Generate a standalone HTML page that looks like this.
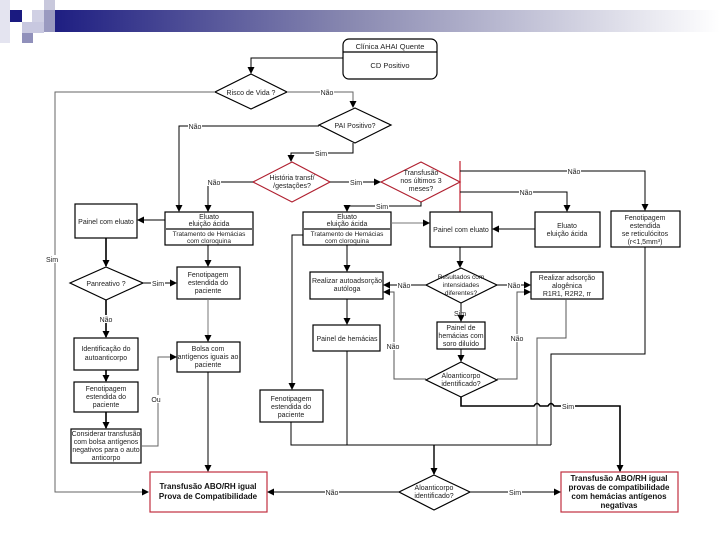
<!DOCTYPE html>
<html><head><meta charset="utf-8"><style>
html,body{margin:0;padding:0;background:#fff;width:720px;height:540px;overflow:hidden}
svg{display:block;font-family:"Liberation Sans",sans-serif}
text{font-size:7px;fill:#222;text-anchor:middle}
.b{font-size:8px;font-weight:bold;fill:#111}
</style></head><body>
<svg width="720" height="540" viewBox="0 0 720 540">
<defs>
<linearGradient id="g" x1="0" x2="1"><stop offset="0" stop-color="#1a1a80"/><stop offset="0.45" stop-color="#8888b0"/><stop offset="1" stop-color="#fff"/></linearGradient>
<marker id="a" markerUnits="userSpaceOnUse" markerWidth="7" markerHeight="7" refX="6" refY="3.5" orient="auto"><path d="M0,0L7,3.5L0,7z" fill="#000"/></marker>
</defs>
<!-- header -->
<rect x="44" y="10" width="676" height="22" fill="url(#g)"/>
<rect x="0" y="0" width="10" height="43" fill="#e4e4f0"/>
<rect x="10" y="10" width="12" height="12" fill="#1a1a80"/>
<rect x="32" y="10" width="12" height="12" fill="#d0d0e4"/>
<rect x="44" y="0" width="11" height="10" fill="#c8c8dc"/>
<rect x="44" y="10" width="11" height="22" fill="#9a9ac0"/>
<rect x="22" y="22" width="22" height="11" fill="#c8c8e0"/>
<rect x="22" y="33" width="11" height="10" fill="#9090bb"/>

<g fill="none" stroke="#000" stroke-width="1.2">
<rect x="343" y="39" width="94" height="40" rx="6" fill="#fff"/>
<line x1="343" y1="52" x2="437" y2="52"/>
<polygon points="251,74 287,92 251,109 215,92" fill="#fff"/>
<polygon points="355,108 391,125 355,143 319,125" fill="#fff"/>
<polygon points="292,162 330,182 292,202 253,182" stroke="#b02030" fill="#fff"/>
<polygon points="421,162 460,182 421,202 381,182" stroke="#b02030" fill="#fff"/>
<line x1="460" y1="161" x2="460" y2="212" stroke="#c02030"/>
<polygon points="106,267 143,283 106,300 70,283" fill="#fff"/>
<polygon points="461,268 497,285 461,303 426,285" fill="#fff"/>
<polygon points="461,362 497,380 461,397 426,380" fill="#fff"/>
<polygon points="434,475 470,492 434,510 399,492" fill="#fff"/>
<rect x="75" y="204" width="62" height="34"/>
<rect x="165" y="212" width="88" height="33"/><line x1="165" y1="229" x2="253" y2="229" stroke="#666" stroke-width="2"/>
<rect x="303" y="212" width="88" height="33"/><line x1="303" y1="229" x2="391" y2="229" stroke="#666" stroke-width="2"/>
<rect x="430" y="212" width="62" height="35"/>
<rect x="535" y="212" width="65" height="35"/>
<rect x="611" y="211" width="69" height="36"/>
<rect x="177" y="267" width="63" height="32"/>
<rect x="74" y="338" width="64" height="32"/>
<rect x="74" y="382" width="64" height="30"/>
<rect x="71" y="429" width="70" height="34"/>
<rect x="177" y="342" width="63" height="30"/>
<rect x="310" y="272" width="73" height="27"/>
<rect x="313" y="325" width="67" height="26"/>
<rect x="260" y="390" width="63" height="32"/>
<rect x="437" y="322" width="48" height="27"/>
<rect x="531" y="272" width="72" height="27"/>
<rect x="150" y="472" width="117" height="40" stroke="#c03040"/>
<rect x="561" y="472" width="117" height="40" stroke="#c03040"/>
</g>

<g fill="none" stroke="#000" stroke-width="1">
<polyline points="343,58 251,58 251,73" marker-end="url(#a)"/>
<polyline points="215,92 55,92 55,492 148,492" stroke="#666" marker-end="url(#a)"/>
<polyline points="287,92 353,92 353,107" stroke="#666" marker-end="url(#a)"/>
<polyline points="319,126 179,126 179,211" marker-end="url(#a)"/>
<polyline points="353,143 353,153 291,153 291,161" marker-end="url(#a)"/>
<polyline points="253,182 208,182 208,211" marker-end="url(#a)"/>
<polyline points="330,182 380,182" marker-end="url(#a)"/>
<polyline points="460,171 645,171 645,210" marker-end="url(#a)"/>
<polyline points="460,192 567,192 567,211" marker-end="url(#a)"/>
<polyline points="421,202 421,206 347,206 347,211" marker-end="url(#a)"/>
<polyline points="165,220 138,220" marker-end="url(#a)"/>
<polyline points="391,223 429,223" stroke="#777" marker-end="url(#a)"/>
<polyline points="535,229 493,229" marker-end="url(#a)"/>
<polyline points="303,235 292,235 292,389" marker-end="url(#a)"/>
<polyline points="106,238 106,266" stroke-width="1.6" marker-end="url(#a)"/>
<polyline points="208,245 208,266" marker-end="url(#a)"/>
<polyline points="347,245 347,271" marker-end="url(#a)"/>
<polyline points="460,247 460,267" marker-end="url(#a)"/>
<polyline points="143,283 176,283" marker-end="url(#a)"/>
<polyline points="106,300 106,337" stroke-width="1.6" marker-end="url(#a)"/>
<polyline points="106,370 106,381" stroke-width="1.6" marker-end="url(#a)"/>
<polyline points="106,412 106,428" stroke-width="1.6" marker-end="url(#a)"/>
<polyline points="141,446 158,446 158,357 176,357" stroke="#666" marker-end="url(#a)"/>
<polyline points="208,299 208,341" stroke="#777" marker-end="url(#a)"/>
<polyline points="208,372 208,471" marker-end="url(#a)"/>
<polyline points="426,285 384,285" marker-end="url(#a)"/>
<polyline points="497,285 530,285" marker-end="url(#a)"/>
<polyline points="461,303 461,321" marker-end="url(#a)"/>
<polyline points="461,349 461,361" marker-end="url(#a)"/>
<polyline points="426,379 394,379 394,292 384,292" stroke="#555" marker-end="url(#a)"/>
<polyline points="497,379 517,379 517,292 530,292" stroke="#555" marker-end="url(#a)"/>
<polyline points="347,299 347,324" marker-end="url(#a)"/>
<polyline points="347,351 347,445"/>
<polyline points="291,422 291,445 551,445"/>
<polyline points="566,299 566,338 537,338 537,445" stroke="#555"/>
<polyline points="645,247 645,354 551,354 551,445"/>
<polyline points="434,445 434,474" stroke-width="1.4" marker-end="url(#a)"/>
<path d="M461,397 V406 H534 q3,-5 6,0 H548 q3,-5 6,0 H620 V471" stroke-width="1.6" marker-end="url(#a)"/>
<polyline points="399,492 268,492" marker-end="url(#a)"/>
<polyline points="470,492 560,492" marker-end="url(#a)"/>
</g>

<g>
<rect x="320" y="88" width="14" height="8" fill="#fff"/><text x="327" y="95">Não</text>
<rect x="188" y="122" width="14" height="8" fill="#fff"/><text x="195" y="129">Não</text>
<rect x="314" y="149" width="14" height="8" fill="#fff"/><text x="321" y="156">Sim</text>
<rect x="207" y="178" width="14" height="8" fill="#fff"/><text x="214" y="185">Não</text>
<rect x="349" y="178" width="14" height="8" fill="#fff"/><text x="356" y="185">Sim</text>
<rect x="567" y="167" width="14" height="8" fill="#fff"/><text x="574" y="174">Não</text>
<rect x="519" y="188" width="14" height="8" fill="#fff"/><text x="526" y="195">Não</text>
<rect x="375" y="202" width="14" height="8" fill="#fff"/><text x="382" y="209">Sim</text>
<rect x="46" y="255" width="14" height="8" fill="#fff"/><text x="52" y="262">Sim</text>
<rect x="151" y="279" width="14" height="8" fill="#fff"/><text x="158" y="286">Sim</text>
<rect x="99" y="315" width="14" height="8" fill="#fff"/><text x="106" y="322">Não</text>
<rect x="150" y="395" width="12" height="8" fill="#fff"/><text x="156" y="402">Ou</text>
<rect x="397" y="281" width="14" height="8" fill="#fff"/><text x="404" y="288">Não</text>
<rect x="507" y="281" width="14" height="8" fill="#fff"/><text x="514" y="288">Não</text>
<text x="460" y="316">Sim</text>
<rect x="386" y="342" width="14" height="8" fill="#fff"/><text x="393" y="349">Não</text>
<rect x="510" y="334" width="14" height="8" fill="#fff"/><text x="517" y="341">Não</text>
<rect x="561" y="402" width="14" height="8" fill="#fff"/><text x="568" y="409">Sim</text>
<rect x="325" y="488" width="14" height="8" fill="#fff"/><text x="332" y="495">Não</text>
<rect x="508" y="488" width="14" height="8" fill="#fff"/><text x="515" y="495">Sim</text>

<text x="390" y="49" style="font-size:7.5px">Clínica AHAI Quente</text>
<text x="390" y="68" style="font-size:7.5px">CD Positivo</text>
<text x="251" y="95">Risco de Vida ?</text>
<text x="355" y="128">PAI Positivo?</text>
<text x="292" y="180">História transf/</text><text x="292" y="188">/gestações?</text>
<text x="421" y="175">Transfusão</text><text x="421" y="183">nos últimos 3</text><text x="421" y="191">meses?</text>
<text x="106" y="224">Painel com eluato</text>
<text x="209" y="219">Eluato</text><text x="209" y="226">eluição ácida</text>
<text x="209" y="236" style="font-size:6.5px">Tratamento de Hemácias</text><text x="209" y="243" style="font-size:6.5px">com cloroquina</text>
<text x="347" y="219">Eluato</text><text x="347" y="226">eluição ácida</text>
<text x="347" y="236" style="font-size:6.5px">Tratamento de Hemácias</text><text x="347" y="243" style="font-size:6.5px">com cloroquina</text>
<text x="461" y="232">Painel com eluato</text>
<text x="567" y="228">Eluato</text><text x="567" y="236">eluição ácida</text>
<text x="645" y="220">Fenotipagem</text><text x="645" y="228">estendida</text><text x="645" y="236">se reticulócitos</text><text x="645" y="244">(r&lt;1,5mm³)</text>
<text x="106" y="286">Panreativo ?</text>
<text x="208" y="277">Fenotipagem</text><text x="208" y="285">estendida do</text><text x="208" y="293">paciente</text>
<text x="106" y="351">Identificação do</text><text x="106" y="360">autoanticorpo</text>
<text x="106" y="391">Fenotipagem</text><text x="106" y="399">estendida do</text><text x="106" y="407">paciente</text>
<text x="106" y="436">Considerar transfusão</text><text x="106" y="444">com bolsa antígenos</text><text x="106" y="452">negativos para o auto</text><text x="106" y="460">anticorpo</text>
<text x="208" y="351">Bolsa com</text><text x="208" y="359">antígenos iguais ao</text><text x="208" y="367">paciente</text>
<text x="347" y="283">Realizar autoadsorção</text><text x="347" y="291">autóloga</text>
<text x="347" y="341">Painel de hemácias</text>
<text x="291" y="401">Fenotipagem</text><text x="291" y="409">estendida do</text><text x="291" y="417">paciente</text>
<text x="461" y="279" style="font-size:6.5px">Resultados com</text><text x="461" y="287" style="font-size:6.5px">intensidades</text><text x="461" y="295" style="font-size:6.5px">diferentes?</text>
<text x="461" y="330">Painel de</text><text x="461" y="338">hemácias com</text><text x="461" y="346">soro diluído</text>
<text x="461" y="378">Aloanticorpo</text><text x="461" y="386">identificado?</text>
<text x="567" y="280">Realizar adsorção</text><text x="567" y="288">alogênica</text><text x="567" y="296">R1R1, R2R2, rr</text>
<text x="434" y="490">Aloanticorpo</text><text x="434" y="498">identificado?</text>
<text x="208" y="489" class="b">Transfusão ABO/RH igual</text><text x="208" y="499" class="b">Prova de Compatibilidade</text>
<text x="619" y="481" class="b">Transfusão ABO/RH igual</text><text x="619" y="490" class="b">provas de compatibilidade</text><text x="619" y="499" class="b">com hemácias antígenos</text><text x="619" y="508" class="b">negativas</text>
</g>
</svg>
</body></html>
